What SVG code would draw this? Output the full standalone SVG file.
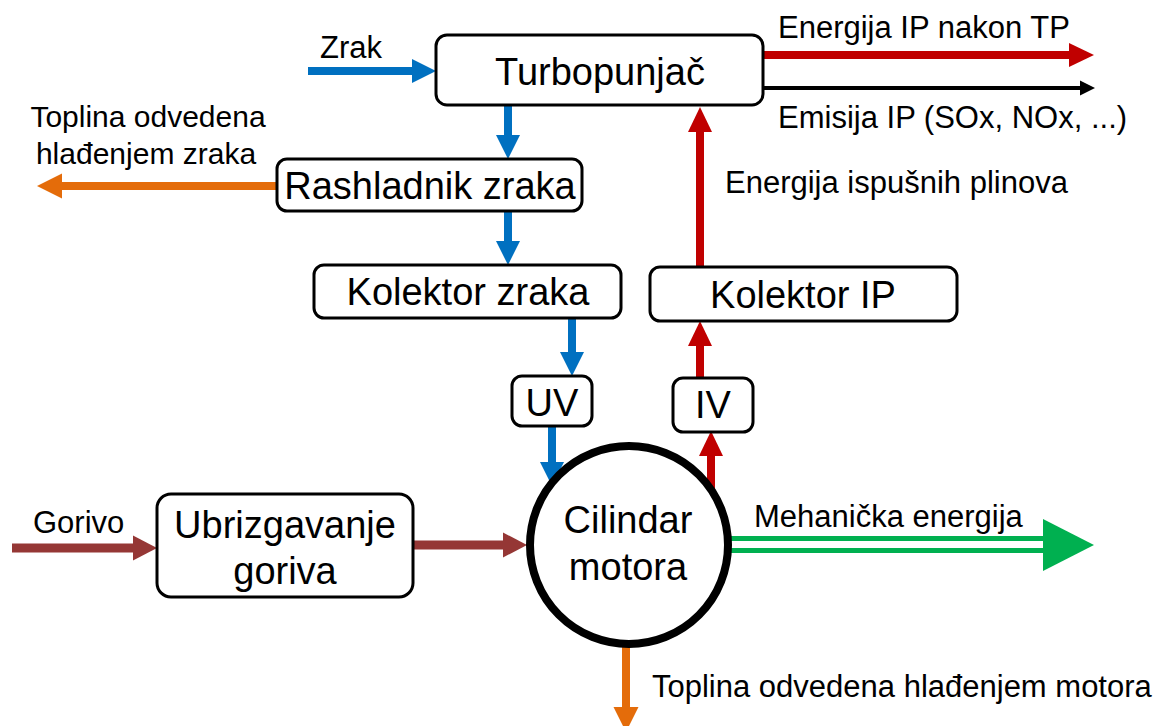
<svg xmlns="http://www.w3.org/2000/svg" width="1160" height="726" viewBox="0 0 1160 726">
<style>
.box{fill:#fff;stroke:#000;stroke-width:3}
.t{font-family:"Liberation Sans",Arial,sans-serif;fill:#000}
.big{font-size:38px;text-anchor:middle}
.lbl{font-size:31px}
.blue{stroke:#0070C0;stroke-width:8;fill:none}
.red{stroke:#C00000;stroke-width:8;fill:none}
.brown{stroke:#953735;stroke-width:9;fill:none}
.orange{stroke:#E46C0A;stroke-width:8;fill:none}
.black{stroke:#000;stroke-width:4;fill:none}
.green{stroke:#00B050;stroke-width:5;fill:none}
</style>
<defs>
<marker id="hBlue" markerUnits="userSpaceOnUse" markerWidth="24" markerHeight="24" refX="0" refY="12" orient="auto" overflow="visible"><path d="M0,0 L24,12 L0,24 Z" fill="#0070C0"/></marker>
<marker id="hRed" markerUnits="userSpaceOnUse" markerWidth="25" markerHeight="24" refX="0" refY="12" orient="auto" overflow="visible"><path d="M0,0 L25,12 L0,24 Z" fill="#C00000"/></marker>
<marker id="hBrown" markerUnits="userSpaceOnUse" markerWidth="24" markerHeight="25" refX="0" refY="12.5" orient="auto" overflow="visible"><path d="M0,0 L24,12.5 L0,25 Z" fill="#953735"/></marker>
<marker id="hOrange" markerUnits="userSpaceOnUse" markerWidth="25" markerHeight="25" refX="0" refY="12.5" orient="auto" overflow="visible"><path d="M0,0 L25,12.5 L0,25 Z" fill="#E46C0A"/></marker>
<marker id="hBlack" markerUnits="userSpaceOnUse" markerWidth="15" markerHeight="15" refX="0" refY="7.5" orient="auto" overflow="visible"><path d="M0,0 L15,7.5 L0,15 Z" fill="#000"/></marker>
</defs>

<g id="connectors">
<line class="blue" x1="308" y1="71" x2="412" y2="71" marker-end="url(#hBlue)"/>
<line class="blue" x1="508" y1="105" x2="508" y2="135" marker-end="url(#hBlue)"/>
<line class="blue" x1="508" y1="211" x2="508" y2="241" marker-end="url(#hBlue)"/>
<line class="blue" x1="572" y1="318" x2="572" y2="352" marker-end="url(#hBlue)"/>
<line class="blue" x1="552" y1="426" x2="552" y2="462" marker-end="url(#hBlue)"/>
<line class="red" x1="711" y1="489" x2="711" y2="456" marker-end="url(#hRed)"/>
<line class="red" x1="700" y1="379" x2="700" y2="346" marker-end="url(#hRed)"/>
<line class="red" x1="700" y1="267" x2="700" y2="132" marker-end="url(#hRed)"/>
<line class="red" x1="763" y1="55" x2="1069" y2="55" marker-end="url(#hRed)"/>
<line class="black" x1="763" y1="88" x2="1080" y2="88" marker-end="url(#hBlack)"/>
<line class="orange" x1="277" y1="186" x2="62" y2="186" marker-end="url(#hOrange)"/>
<line class="brown" x1="12" y1="548" x2="133" y2="548" marker-end="url(#hBrown)"/>
<line class="brown" x1="413" y1="545" x2="503" y2="545" marker-end="url(#hBrown)"/>
<line class="orange" x1="626" y1="647" x2="626" y2="707" marker-end="url(#hOrange)"/>
<line class="green" x1="731" y1="538.5" x2="1044" y2="538.5"/>
<line class="green" x1="731" y1="550.5" x2="1044" y2="550.5"/>
<polygon points="1043,519 1094,545 1043,571" fill="#00B050"/>
</g>

<g id="turbopunjac">
<rect class="box" x="436" y="35" width="327" height="70" rx="11"/>
<text class="t big" x="600" y="85">Turbopunjač</text>
</g>
<g id="rashladnik">
<rect class="box" x="277" y="159" width="305" height="52" rx="10"/>
<text class="t big" x="430" y="199">Rashladnik zraka</text>
</g>
<g id="kolektor-zraka">
<rect class="box" x="314" y="265" width="307" height="53" rx="10"/>
<text class="t big" x="468" y="305">Kolektor zraka</text>
</g>
<g id="kolektor-ip">
<rect class="box" x="650" y="267" width="307" height="54" rx="10"/>
<text class="t big" x="803" y="308">Kolektor IP</text>
</g>
<g id="uv">
<rect class="box" x="512" y="376" width="80" height="50" rx="10"/>
<text class="t big" x="552" y="416">UV</text>
</g>
<g id="iv">
<rect class="box" x="673" y="378" width="80" height="54" rx="10"/>
<text class="t big" x="713" y="418">IV</text>
</g>
<g id="ubrizgavanje">
<rect class="box" x="157" y="494" width="256" height="103" rx="14"/>
<text class="t big" x="285" y="538">Ubrizgavanje</text>
<text class="t big" x="285" y="584">goriva</text>
</g>
<g id="cilindar">
<circle cx="629" cy="545" r="99" fill="#fff" fill-opacity="0" stroke="#000" stroke-width="8"/>
<text class="t big" x="628" y="533">Cilindar</text>
<text class="t big" x="628" y="580">motora</text>
</g>

<g id="labels">
<text class="t lbl" x="320" y="58">Zrak</text>
<text class="t lbl" x="778" y="38">Energija IP nakon TP</text>
<text class="t lbl" x="778" y="128">Emisija IP (SOx, NOx, ...)</text>
<text class="t lbl" x="725" y="193">Energija ispušnih plinova</text>
<text class="t" font-size="30" text-anchor="middle" x="148" y="127">Toplina odvedena</text>
<text class="t" font-size="30" text-anchor="middle" x="146" y="164">hlađenjem zraka</text>
<text class="t lbl" x="33" y="533">Gorivo</text>
<text class="t lbl" x="754" y="527">Mehanička energija</text>
<text class="t lbl" x="652" y="697">Toplina odvedena hlađenjem motora</text>
</g>
</svg>
